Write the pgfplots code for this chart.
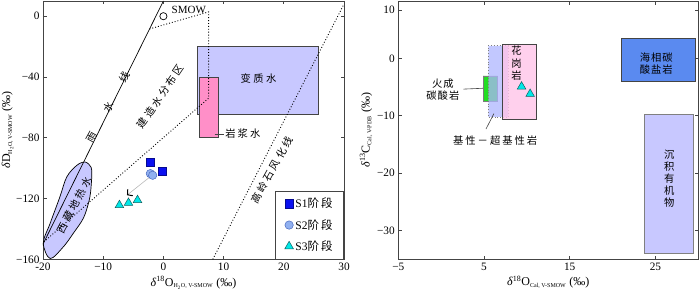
\documentclass[border=0pt]{standalone}
\usepackage{fontspec}
\setmainfont{Liberation Serif}
\newfontfamily\cjk{Noto Sans CJK SC}
\usepackage{pgfplots}
\pgfplotsset{compat=1.18}
\usetikzlibrary{arrows.meta}
\definecolor{lav}{HTML}{C8C8FF}
\definecolor{mag}{HTML}{FF8FC8}
\definecolor{sq}{HTML}{0A10F0}
\definecolor{ci}{HTML}{90B0F0}
\definecolor{cie}{HTML}{4A6AC0}
\definecolor{tri}{HTML}{00E8E8}
\definecolor{trie}{HTML}{106060}
\definecolor{basic}{HTML}{AEB6FF}
\definecolor{gran}{HTML}{FFC4E8}
\definecolor{marine}{HTML}{5A8AF0}
\definecolor{grn}{HTML}{22DD22}
\definecolor{frame}{HTML}{444444}
\newcommand{\cf}{\cjk\fontsize{10.3}{12}\selectfont}
\pgfplotsset{
  myax/.style={
    scale only axis, anchor=south west,
    axis line style={frame, line width=0.9pt},
    tick style={frame, line width=0.7pt},
    tick align=inside, major tick length=3.5pt,
    tick label style={font=\fontsize{11.3}{12}\selectfont},
    label style={font=\fontsize{12}{13}\selectfont},
    clip=true,
  }
}
\begin{document}
\begin{tikzpicture}
\useasboundingbox (0pt,0pt) rectangle (700pt,292pt);
% ---------------- left axis ----------------
\begin{axis}[myax, at={(43pt,32.7pt)}, width=301pt, height=258.3pt,
  xmin=-20, xmax=30, ymin=-160, ymax=10,
  xtick={-20,-10,0,10,20,30}, xticklabels={-20,−10,0,10,20,30},
  ytick={-160,-120,-80,-40,0}, yticklabels={−160,−120,−80,−40,0},
  xlabel={\textit{δ}\textsuperscript{18}O\textsubscript{\fontsize{6}{6}\selectfont H\textsubscript{2}O, V-SMOW} (‰)},
  ylabel={\textit{δ}D\textsubscript{\fontsize{6}{6}\selectfont H\textsubscript{2}O, V-SMOW} (‰)},
  xlabel style={yshift=1pt},
  ylabel style={yshift=-4pt},
  legend style={at={(1,0)}, anchor=south east, draw=frame, line width=0.8pt,
    font=\fontsize{11.5}{13}\selectfont, row sep=6pt, inner xsep=9pt, inner ysep=5pt},
  legend cell align=left,
]
% metamorphic water
\addplot[fill=lav, draw=frame, line width=0.8pt, line cap=rect, forget plot] coordinates {(5.6,-20) (25.7,-20) (25.7,-64.5) (5.6,-64.5) (5.6,-20)};
% magmatic water
\addplot[fill=mag, draw=frame, line width=0.8pt, line cap=rect, forget plot] coordinates {(6.05,-40.3) (9.2,-40.3) (9.2,-79.8) (6.05,-79.8) (6.05,-40.3)};
% Tibet geothermal water
\addplot[fill=lav, draw=black, line width=0.7pt, smooth, tension=0.55, forget plot] coordinates {
 (-11.9,-106) (-12.1,-116) (-12.45,-123.1) (-13.3,-133) (-14.95,-142.8) (-16.6,-151.7) (-18.8,-159.5)
 (-19.95,-149.3) (-18.8,-136.2) (-17.2,-119) (-16.05,-105.8) (-14.4,-98.2) (-13,-96) (-12.0,-99.5) (-11.9,-106)};
% meteoric water line
\addplot[black, line width=0.7pt, forget plot] coordinates {(-21.25,-160) (0,10)};
% formation water region
\addplot[black, dotted, line width=0.9pt, forget plot] coordinates {(-2.3,-8.4) (7.5,2.8) (7.5,-54) (-20,-149)};
% kaolinite weathering line
\addplot[black, dotted, line width=0.9pt, forget plot] coordinates {(8.2,-160) (30,8)};
% SMOW
\addplot[only marks, mark=o, mark size=3.6pt, mark options={black, line width=0.7pt}, forget plot] coordinates {(0,0)};
% arrow
\addplot[gray!55, line width=0.6pt, -{Straight Barb[black, length=3.5pt, width=8pt, line width=1pt]}, forget plot] coordinates {(-2.3,-106) (-6.05,-117.8)};
% data
\addplot[only marks, mark=square*, mark size=4.3pt, mark options={fill=sq, draw=sq!60!black, line width=0.4pt}] coordinates {(-2.17,-96) (-0.22,-101.9)};
\addlegendentry{S1{\cjk 阶\kern2pt 段}}
\addplot[only marks, mark=*, mark size=4.2pt, mark options={fill=ci, draw=cie, line width=0.5pt}] coordinates {(-2.17,-103.6) (-1.78,-104.7)};
\addlegendentry{S2{\cjk 阶\kern2pt 段}}
\addplot[only marks, mark=triangle*, mark size=5pt, mark options={fill=tri, draw=trie, line width=0.5pt}] coordinates {(-7.3,-124.4) (-5.8,-122.9) (-4.3,-121.1)};
\addlegendentry{S3{\cjk 阶\kern2pt 段}}
% labels
\node[font=\fontsize{11}{12}\selectfont, anchor=west] at (axis cs:0.8,4.2) {SMOW};
\node[font=\cf, rotate=61] at (axis cs:-9.17,-59.5) {雨\kern24pt 水\kern24pt 线};
\node[font=\cf, rotate=56] at (axis cs:-0.5,-52.9) {建\kern2.5pt 造\kern2.5pt 水\kern2.5pt 分\kern2.5pt 布\kern2.5pt 区};
\node[font=\cf, rotate=61] at (axis cs:18,-101.4) {高\kern2.5pt 岭\kern2.5pt 石\kern2.5pt 风\kern2.5pt 化\kern2.5pt 线};
\node[font=\cf, rotate=62] at (axis cs:-14.8,-124.4) {西\kern2.5pt 藏\kern2.5pt 地\kern2.5pt 热\kern2.5pt 水};
\node[font=\cf] at (axis cs:15.8,-41.1) {变\kern2.5pt 质\kern2.5pt 水};
\addplot[frame, line width=0.6pt, forget plot] coordinates {(8.5,-77.6) (10.1,-77.6)};
\node[font=\cf] at (axis cs:13.2,-77.4) {岩\kern2pt 浆\kern2pt 水};
\end{axis}
% ---------------- right axis ----------------
\begin{axis}[myax, at={(398.3pt,32.7pt)}, width=300pt, height=258.3pt,
  xmin=-5, xmax=30, ymin=-35, ymax=10,
  xtick={-5,5,15,25}, xticklabels={−5,5,15,25},
  ytick={-30,-20,-10,0,8.4}, yticklabels={−30,−20,−10,0,10},
  xlabel={\textit{δ}\textsuperscript{18}O\textsubscript{\fontsize{6}{6}\selectfont Cal, V-SMOW} (‰)},
  ylabel={\textit{δ}\textsuperscript{13}C\textsubscript{\fontsize{6}{6}\selectfont Cal, V-PDB} (‰)},
  xlabel style={yshift=1pt},
  ylabel style={yshift=-2pt},
]
% igneous carbonatite
\addplot[fill=grn, draw=frame!70, line width=0.5pt, line cap=rect] coordinates {(4.9,-3.06) (6.6,-3.06) (6.6,-7.5) (4.9,-7.5) (4.9,-3.06)};
% basic-ultrabasic
\addplot[fill=basic, fill opacity=0.75, draw=gray, dotted, line width=0.8pt] coordinates {(5.5,2.2) (7.8,2.2) (7.8,-10.2) (5.5,-10.2) (5.5,2.2)};
% granite
\addplot[fill=gran, fill opacity=0.8, draw=frame, line width=0.7pt, line cap=rect] coordinates {(7.17,2.5) (11.1,2.5) (11.1,-10.7) (7.17,-10.7) (7.17,2.5)};
% marine carbonate
\addplot[fill=marine, draw=frame, line width=0.7pt, line cap=rect] coordinates {(21,3.55) (29.6,3.55) (29.6,-4.05) (21,-4.05) (21,3.55)};
% sedimentary organic
\addplot[fill=lav, draw=gray, line width=0.8pt, line cap=rect] coordinates {(23.7,-9.8) (29.4,-9.8) (29.4,-34) (23.7,-34) (23.7,-9.8)};
% data
\addplot[only marks, mark=triangle*, mark size=5pt, mark options={fill=tri, draw=trie, line width=0.5pt}] coordinates {(9.38,-4.92) (10.38,-6.2)};
% leader lines
\addplot[frame, line width=0.6pt] coordinates {(2.6,-5.35) (4.9,-5.2)};
\addplot[frame, line width=0.6pt] coordinates {(5.23,-12.3) (6.16,-9.6)};
% labels
\node[font=\cf, align=center, inner sep=0pt] at (axis cs:8.8,-0.9) {花\\[0.5pt]岗\\[0.5pt]岩};
\node[font=\cf, align=center, inner sep=0pt] at (axis cs:0.2,-5.45) {火\kern1pt 成\\碳\kern1pt 酸\kern1pt 岩};
\node[font=\cf] at (axis cs:6.3,-14.3) {基\kern2pt 性\kern2pt －\kern2pt 超\kern2pt 基\kern2pt 性\kern2pt 岩};
\node[font=\cf, align=center, inner sep=0pt] at (axis cs:25.1,-0.9) {海\kern1pt 相\kern1pt 碳\\酸\kern1pt 盐\kern1pt 岩};
\node[font=\cf, align=center, inner sep=0pt] at (axis cs:26.6,-21) {沉\\积\\有\\机\\物};
\end{axis}
\end{tikzpicture}
\end{document}
